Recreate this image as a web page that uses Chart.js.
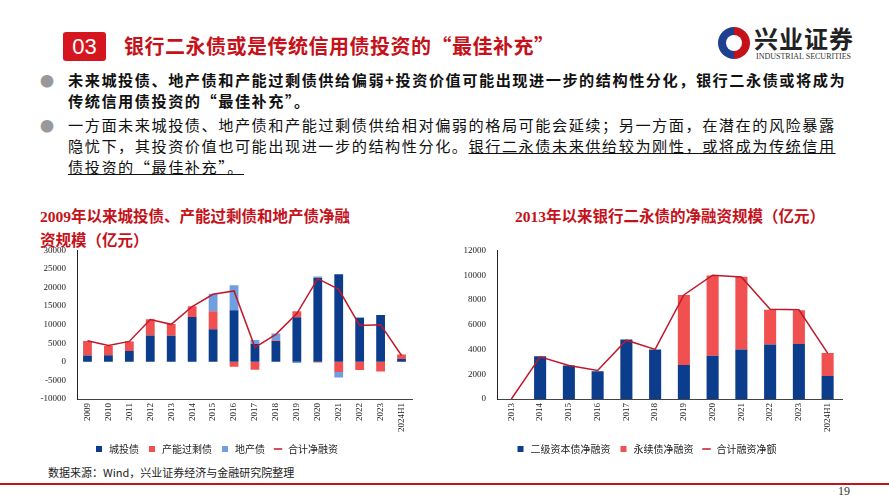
<!DOCTYPE html>
<html><head><meta charset="utf-8">
<script src="https://cdn.jsdelivr.net/npm/chart.js@4.4.1/dist/chart.umd.min.js"></script>
<style>
body{margin:0;width:889px;height:500px;background:#fff;position:relative;overflow:hidden;font-family:"Noto Sans CJK SC","Noto Sans",sans-serif;}
.abs{position:absolute;}
#num{left:63px;top:32px;width:43px;height:29px;background:#d5161e;color:#fff;font:22px "Liberation Sans Narrow","Liberation Sans",sans-serif;text-align:center;line-height:29px;border-radius:3px;}
#title{left:124px;top:31px;color:#c5121a;font-size:20px;font-weight:bold;letter-spacing:0.5px;}
.b{left:40px;color:#999;font-size:14px;}
.t{left:68px;white-space:nowrap;font-size:15.2px;letter-spacing:1.5px;line-height:21px;color:#111;font-weight:bold;}
.ctitle{color:#c5121a;font-weight:bold;font-size:15.5px;line-height:22px;white-space:nowrap;}
</style></head><body>
<div id="num" class="abs">03</div>
<div id="title" class="abs">银行二永债或是传统信用债投资的“最佳补充”</div>
<div class="abs" style="left:718px;top:27px;width:32px;height:32px;border-radius:50%;background:conic-gradient(#c5121a 0 50%,#1f3f8f 50% 100%);"></div>
<div class="abs" style="left:726px;top:35px;width:16px;height:16px;border-radius:50%;background:#fff;"></div>
<div class="abs" style="left:754px;top:24px;font-size:24px;font-weight:bold;color:#222;letter-spacing:1px;line-height:28px;">兴业证券</div>
<div class="abs" style="left:756px;top:52px;font:8px 'Liberation Serif',serif;color:#333;">INDUSTRIAL SECURITIES</div>
<div class="abs b" style="top:70px;">●</div>
<div class="abs t" style="top:69px;">未来城投债、地产债和产能过剩债供给偏弱+投资价值可能出现进一步的结构性分化，银行二永债或将成为<br>传统信用债投资的“最佳补充”。</div>
<div class="abs b" style="top:115px;">●</div>
<div class="abs t" style="top:114px;font-weight:normal;">一方面未来城投债、地产债和产能过剩债供给相对偏弱的格局可能会延续；另一方面，在潜在的风险暴露<br>隐忧下，其投资价值也可能出现进一步的结构性分化。<span style="text-decoration:underline;">银行二永债未来供给较为刚性，或将成为传统信用<br>债投资的“最佳补充”。</span></div>
<div class="abs ctitle" style="left:40px;top:204px;"><span style="font-family:'Liberation Serif'">2009</span>年以来城投债、产能过剩债和地产债净融<br>资规模（亿元）</div>
<div class="abs ctitle" style="left:470px;top:204px;width:400px;text-align:center;"><span style="font-family:'Liberation Serif'">2013</span>年以来银行二永债的净融资规模（亿元）</div>
<div class="abs" style="left:20px;top:242px;width:400px;height:222px;"><canvas id="c1"></canvas></div>
<div class="abs" style="left:450px;top:242px;width:400px;height:222px;"><canvas id="c2"></canvas></div>
<div class="abs" style="left:48px;top:464px;font-size:11px;color:#222;">数据来源：Wind，兴业证券经济与金融研究院整理</div>
<div class="abs" style="left:0;top:483px;width:889px;height:2px;background:#c5121a;"></div>
<div class="abs" style="left:838px;top:484px;font:12px 'Liberation Serif',serif;color:#333;">19</div>
<script>
const years1=['2009','2010','2011','2012','2013','2014','2015','2016','2017','2018','2019','2020','2021','2022','2023','2024H1'];
const cityBond=[1700,1800,2900,7100,7000,12100,8800,13900,4800,5600,12000,22600,23600,11800,12600,800];
const overcapBond=[3900,2500,2600,4400,3200,2900,4850,-1300,-2100,200,1650,-200,-2700,-2200,-2600,1200];
const propertyBond=[0,0,0,0,0,0,4650,6700,1100,1800,-300,400,-1500,200,0,0];
const totalNet1=[5700,4400,5500,11400,10100,14900,18200,19100,3900,7400,13000,22400,19500,9800,10000,1700];
const years2=['2013','2014','2015','2016','2017','2018','2019','2020','2021','2022','2023','2024H1'];
const tier2=[0,3450,2700,2250,4800,4000,2750,3500,4000,4400,4450,1850];
const perpetual=[0,0,0,0,0,0,5650,6470,5870,2800,2710,1870];
const totalNet2=[0,3400,2700,2300,4750,4000,8400,10000,9850,7250,7200,3700];
const NAVY='#0b3d8c',RED='#f05050',LB='#6f9fe0',LINE='#c0182a';
const tickFont={family:'Liberation Serif',size:9};
function opts(min,max,step,yWidth){return {responsive:true,maintainAspectRatio:false,animation:false,
 layout:{padding:{right:8}},
 plugins:{legend:{position:'bottom',labels:{usePointStyle:true,sort:(a,b)=>a.datasetIndex-b.datasetIndex,font:{family:'Noto Sans CJK SC',size:10},color:'#222',boxWidth:22,boxHeight:6,padding:8}},tooltip:{enabled:false}},
 scales:{x:{stacked:true,grid:{display:false,drawTicks:false},border:{color:'#444'},ticks:{font:tickFont,color:'#222',minRotation:90,maxRotation:90,padding:4}},
 y:{stacked:true,min:min,max:max,grid:{display:false},border:{color:'#222'},afterFit:s=>{s.width=yWidth;},ticks:{stepSize:step,font:tickFont,color:'#222',callback:v=>String(v)}}}};}
new Chart(document.getElementById('c1'),{type:'bar',data:{labels:years1,datasets:[
 {label:'城投债',data:cityBond,backgroundColor:NAVY,stack:'s',barPercentage:0.6,categoryPercentage:0.7,pointStyle:'rect',order:2},
 {label:'产能过剩债',data:overcapBond,backgroundColor:RED,stack:'s',barPercentage:0.6,categoryPercentage:0.7,pointStyle:'rect',order:2},
 {label:'地产债',data:propertyBond,backgroundColor:LB,stack:'s',barPercentage:0.6,categoryPercentage:0.7,pointStyle:'rect',order:2},
 {label:'合计净融资',type:'line',data:totalNet1,borderColor:LINE,backgroundColor:LINE,borderWidth:1.5,pointRadius:0,stack:'l',pointStyle:'line',order:1}
]},options:opts(-10000,30000,5000,57)});
new Chart(document.getElementById('c2'),{type:'bar',data:{labels:years2,datasets:[
 {label:'二级资本债净融资',data:tier2,backgroundColor:NAVY,stack:'s',barPercentage:0.6,categoryPercentage:0.7,pointStyle:'rect',order:2},
 {label:'永续债净融资',data:perpetual,backgroundColor:RED,stack:'s',barPercentage:0.6,categoryPercentage:0.7,pointStyle:'rect',order:2},
 {label:'合计融资净额',type:'line',data:totalNet2,borderColor:LINE,backgroundColor:LINE,borderWidth:1.5,pointRadius:0,stack:'l',pointStyle:'line',order:1}
]},options:opts(0,12000,2000,47)});
</script></body></html>
